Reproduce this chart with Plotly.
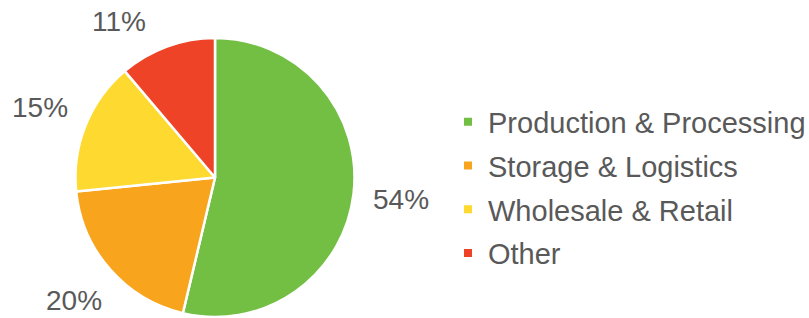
import math
import plotly.graph_objects as go

# ---- data ----
categories = ["Production & Processing", "Storage & Logistics", "Wholesale & Retail", "Other"]
values = [53.7, 19.7, 15.4, 11.2]
colors = ["#72BF44", "#F8A51D", "#FED92F", "#EE4326"]

# ---- style / geometry ----
W, H = 809, 318
CX, CY, R = 215, 177.5, 139.5          # pie centre / radius in pixels
TEXT_COLOR = "#595959"
FONT = "Liberation Sans, Arial, sans-serif"
LABEL_SIZE = 28
LEGEND_SIZE = 29

fig = go.Figure()
fig.add_trace(go.Pie(
    values=values, labels=categories, sort=False, direction="clockwise", rotation=0,
    marker=dict(colors=colors, line=dict(color="white", width=2.5)),
    textinfo="none", hoverinfo="label+percent", showlegend=False,
    domain=dict(x=[(CX - R) / W, (CX + R) / W], y=[(H - CY - R) / H, (H - CY + R) / H]),
))

# legend proxies (one per category)
for cat, col in zip(categories, colors):
    fig.add_trace(go.Scatter(x=[None], y=[None], mode="markers", name=cat, legendgroup=cat,
                             marker=dict(symbol="square", size=8, color=col), hoverinfo="skip"))

# outside percentage labels placed from the slice mid-angles
total = sum(values)
cum = 0.0
annotations = []
GAP = 18
for v in values:
    frac = v / total
    theta = (cum + frac / 2) * 2 * math.pi
    cum += frac
    txt = f"{round(frac * 100)}%"
    hw = LABEL_SIZE * (0.556 * (len(txt) - 1) + 0.889) / 2
    hh = 13
    def place(t):
        s, c = math.sin(t), math.cos(t)
        d = R + GAP + hw * abs(s) + hh * abs(c)
        return CX + d * s, CY - d * c
    x, y = place(theta)
    step = 0.5 * math.pi / 180
    while y - 11 < 10:
        theta += -step if math.sin(theta) < 0 else step
        x, y = place(theta)
    annotations.append(dict(x=x / W, y=1 - y / H, xref="paper", yref="paper", text=txt,
                            showarrow=False, xanchor="center", yanchor="middle",
                            font=dict(size=LABEL_SIZE, color=TEXT_COLOR, family=FONT)))

fig.update_layout(
    width=W, height=H, margin=dict(l=0, r=0, t=0, b=0, autoexpand=False),
    paper_bgcolor="white", plot_bgcolor="white",
    xaxis=dict(visible=False), yaxis=dict(visible=False),
    annotations=annotations,
    legend=dict(x=448 / W, y=1 - 187.5 / H, xanchor="left", yanchor="middle",
                font=dict(size=LEGEND_SIZE, color=TEXT_COLOR, family=FONT),
                tracegroupgap=3, bgcolor="rgba(0,0,0,0)"),
    font=dict(family=FONT, color=TEXT_COLOR),
)

fig.write_html("out.html", config={"displayModeBar": False},
               post_script="document.body.style.margin='0';")
